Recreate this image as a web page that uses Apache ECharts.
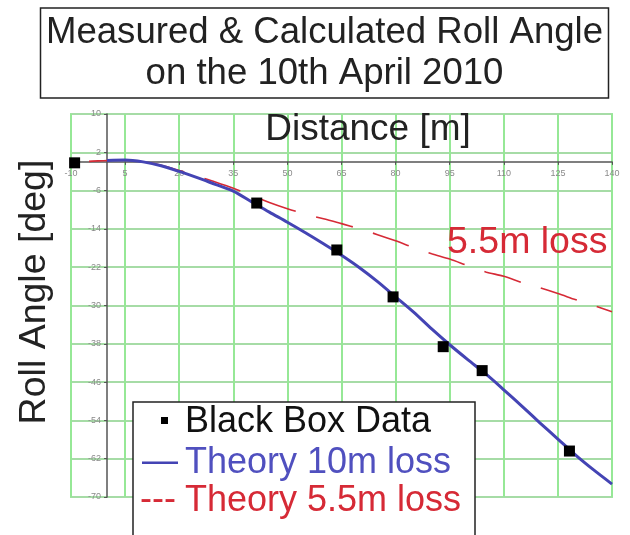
<!DOCTYPE html>
<html>
<head>
<meta charset="utf-8">
<style>
  html, body { margin: 0; padding: 0; background: #ffffff; }
  #chart { width: 630px; height: 535px; }
</style>
<script src="https://cdn.jsdelivr.net/npm/echarts@6/dist/echarts.min.js"></script>
</head>
<body>
<div id="chart"></div>
<script>
// ---- data ----
const titleText = 'Measured & Calculated Roll Angle\non the 10th April 2010';
const xAxisName = 'Distance [m]';
const yAxisName = 'Roll Angle [deg]';

const blackBoxX = [-9.0, 41.5, 63.7, 79.3, 93.2, 104.0, 128.2];
const blackBoxY = [-0.2, -8.6, -18.4, -28.2, -38.6, -43.6, -60.4];

const theory10X = [0, 5, 10, 15, 20, 25, 30, 35, 40, 45, 50, 55, 60, 65, 70, 75, 80, 85, 90, 95, 100, 105, 110, 115, 120, 125, 130, 135, 140];
const theory10Y = [0.3, 0.4, 0.0, -0.8, -2.0, -3.3, -4.7, -6.1, -8.3, -10.5, -12.6, -14.8, -17.1, -19.5, -22.1, -25.0, -28.2, -31.4, -34.9, -38.2, -41.3, -44.3, -47.6, -51.0, -54.5, -57.9, -61.3, -64.4, -67.3];

const theory55X = [-10, -5, 0, 5, 10, 15, 20, 25, 30, 35, 40, 45, 50, 55, 60, 65, 70, 75, 80, 85, 90, 95, 100, 105, 110, 115, 120, 125, 130, 135, 140];
const theory55Y = [0.0, 0.1, 0.3, 0.4, 0.0, -0.7, -1.8, -3.0, -4.2, -5.5, -7.0, -8.5, -9.8, -10.9, -11.9, -12.9, -14.0, -15.2, -16.5, -17.9, -19.2, -20.3, -21.7, -23.0, -23.9, -25.2, -26.3, -27.5, -28.8, -30.0, -31.3];

const xMin = -10, xMax = 140, xStep = 15;
const yMin = -70, yMax = 10, yStep = 8;

const seriesNames = ['Black Box Data', 'Theory 10m loss', 'Theory 5.5m loss'];
const curveLabel = '5.5m loss';

// ---- build ----
const zip = (xs, ys) => xs.map((x, i) => [x, ys[i]]);
const FONT = '"Liberation Sans", Arial, sans-serif';
const BLUE = '#4444b4';
const RED = '#d62a36';

// plot rectangle (pixels)
const G_LEFT = 71, G_RIGHT = 18, G_TOP = 114, G_BOTTOM = 38;
const W = 630, H = 535;
const plotW = W - G_LEFT - G_RIGHT, plotH = H - G_TOP - G_BOTTOM;
// move the axes so they cross at the origin (labels move with them)
const xAxisOffset = -(plotH * (0 - yMin) / (yMax - yMin));
const yAxisOffset = -(plotW * (0 - xMin) / (xMax - xMin));

const chart = echarts.init(document.getElementById('chart'), null, { renderer: 'canvas' });

const option = {
  backgroundColor: '#ffffff',
  animation: false,
  title: {
    text: titleText,
    left: 318.5,
    top: 8,
    textAlign: 'center',
    padding: [4, 6],
    borderColor: '#222',
    borderWidth: 1.5,
    textStyle: {
      fontFamily: FONT,
      fontSize: 36.6,
      fontWeight: 'normal',
      color: '#222',
      lineHeight: 41
    }
  },
  grid: {
    left: G_LEFT,
    right: G_RIGHT,
    top: G_TOP,
    bottom: G_BOTTOM,
    show: true,
    borderColor: '#9ee89e',
    borderWidth: 2,
    containLabel: false
  },
  xAxis: {
    type: 'value',
    min: xMin,
    max: xMax,
    interval: xStep,
    position: 'bottom',
    offset: xAxisOffset,
    axisLine: { show: true, onZero: false, lineStyle: { color: '#555', width: 1.5 } },
    axisTick: { show: true, length: 3, lineStyle: { color: '#555' } },
    axisLabel: { fontFamily: FONT, fontSize: 9, color: '#8a8a8a', margin: 7 },
    splitLine: { show: true, lineStyle: { color: '#96e896', width: 2 } }
  },
  yAxis: {
    type: 'value',
    min: yMin,
    max: yMax,
    interval: yStep,
    position: 'left',
    offset: yAxisOffset,
    axisLine: { show: true, onZero: false, lineStyle: { color: '#555', width: 1.5 } },
    axisTick: { show: true, length: 3, lineStyle: { color: '#555' } },
    axisLabel: { fontFamily: FONT, fontSize: 9, color: '#8a8a8a', margin: 6 },
    splitLine: { show: true, lineStyle: { color: '#a6dca6', width: 2 } }
  },
  series: [
    {
      name: seriesNames[2],
      type: 'line',
      data: zip(theory55X, theory55Y),
      showSymbol: false,
      smooth: 0.3,
      z: 3,
      lineStyle: { color: RED, width: 1.6, type: [38, 21], dashOffset: 41 }
    },
    {
      name: seriesNames[1],
      type: 'line',
      data: zip(theory10X, theory10Y),
      showSymbol: false,
      smooth: 0.3,
      z: 4,
      lineStyle: { color: BLUE, width: 3 }
    },
    {
      name: seriesNames[0],
      type: 'scatter',
      data: zip(blackBoxX, blackBoxY),
      symbol: 'rect',
      symbolSize: 11,
      z: 5,
      itemStyle: { color: '#000', opacity: 1 }
    }
  ],
  graphic: [
    {
      type: 'text', x: 368, y: 130, z: 50,
      style: { text: xAxisName, font: '37px ' + FONT, fill: '#222', align: 'center', verticalAlign: 'middle' }
    },
    {
      type: 'text', x: 35, y: 292, rotation: Math.PI / 2, z: 50,
      style: { text: yAxisName, font: '37.5px ' + FONT, fill: '#222', align: 'center', verticalAlign: 'middle' }
    },
    {
      type: 'text', x: 447, y: 243, z: 50,
      style: { text: curveLabel, font: '37.5px ' + FONT, fill: RED, align: 'left', verticalAlign: 'middle' }
    },
    { type: 'rect', z: 100, shape: { x: 133, y: 402, width: 342, height: 150 },
      style: { fill: '#fff', stroke: '#222', lineWidth: 1.5 } },
    { type: 'rect', z: 101, shape: { x: 161, y: 417, width: 7, height: 7 }, style: { fill: '#000' } },
    { type: 'text', z: 101, x: 185, y: 422,
      style: { text: seriesNames[0], font: '36px ' + FONT, fill: '#111', align: 'left', verticalAlign: 'middle' } },
    { type: 'text', z: 101, x: 142, y: 462,
      style: { text: '—', font: '36px ' + FONT, fill: BLUE, align: 'left', verticalAlign: 'middle' } },
    { type: 'text', z: 101, x: 185, y: 463,
      style: { text: seriesNames[1], font: '36px ' + FONT, fill: '#5050bf', align: 'left', verticalAlign: 'middle' } },
    { type: 'text', z: 101, x: 140, y: 500,
      style: { text: '---', font: '36px ' + FONT, fill: RED, align: 'left', verticalAlign: 'middle' } },
    { type: 'text', z: 101, x: 185, y: 501,
      style: { text: seriesNames[2], font: '36px ' + FONT, fill: RED, align: 'left', verticalAlign: 'middle' } }
  ]
};

chart.setOption(option);
</script>
</body>
</html>
